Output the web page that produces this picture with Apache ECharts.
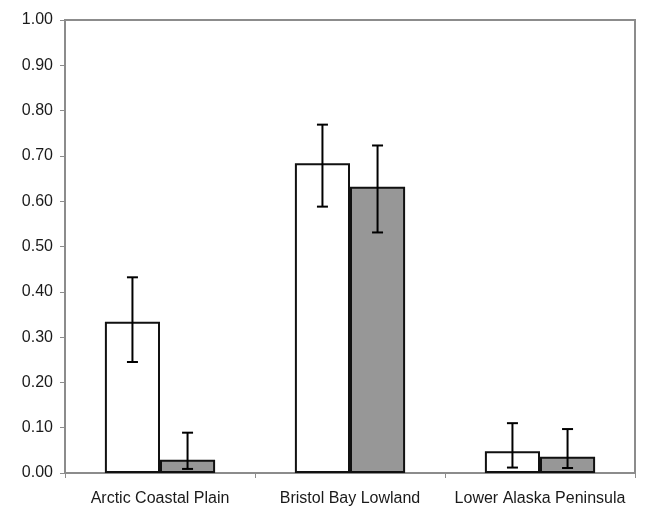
<!DOCTYPE html>
<html>
<head>
<meta charset="utf-8">
<script src="https://cdn.jsdelivr.net/npm/echarts@6/dist/echarts.min.js"></script>
<style>
html,body{margin:0;padding:0;background:#fff;}
#chart{width:666px;height:519px;}
</style>
</head>
<body>
<div id="chart"></div>
<script>
var categories = ['Arctic Coastal Plain', 'Bristol Bay Lowland', 'Lower Alaska Peninsula'];
var whiteValues = [0.334, 0.684, 0.048];
var whiteLow = [0.245, 0.588, 0.012];
var whiteHigh = [0.432, 0.769, 0.110];
var grayValues = [0.029, 0.632, 0.036];
var grayLow = [0.009, 0.531, 0.011];
var grayHigh = [0.089, 0.723, 0.097];
var yTicks = [0, 0.1, 0.2, 0.3, 0.4, 0.5, 0.6, 0.7, 0.8, 0.9, 1.0];

var BAR_FRAC = 0.29;

function errData(low, high) {
  return categories.map(function (c, i) { return [i, low[i], high[i]]; });
}
function errRender(side) {
  return function (params, api) {
    var idx = api.value(0);
    var band = api.size([1, 0])[0];
    var bw = band * BAR_FRAC;
    var x = api.coord([idx, 0])[0] + side * bw / 2;
    var yl = api.coord([idx, api.value(1)])[1];
    var yh = api.coord([idx, api.value(2)])[1];
    var cap = 5.5;
    var st = { stroke: '#000', lineWidth: 2 };
    return {
      type: 'group',
      children: [
        { type: 'line', shape: { x1: x, y1: yl, x2: x, y2: yh }, style: st },
        { type: 'line', shape: { x1: x - cap, y1: yl, x2: x + cap, y2: yl }, style: st },
        { type: 'line', shape: { x1: x - cap, y1: yh, x2: x + cap, y2: yh }, style: st }
      ]
    };
  };
}

var chart = echarts.init(document.getElementById('chart'), null, { renderer: 'canvas' });
chart.setOption({
  animation: false,
  backgroundColor: '#fff',
  textStyle: { fontFamily: 'Liberation Sans, Arial, sans-serif' },
  grid: {
    left: 65, right: 31, top: 20, bottom: 46,
    show: true, borderColor: '#8c8c8c', borderWidth: 2, backgroundColor: 'transparent'
  },
  xAxis: {
    type: 'category',
    data: categories,
    axisLine: { show: true, lineStyle: { color: '#8c8c8c', width: 2 } },
    axisTick: { show: true, length: 5, lineStyle: { color: '#8c8c8c', width: 1 } },
    axisLabel: {
      color: '#1a1a1a', fontSize: 16, margin: 18, interval: 0, hideOverlap: false,
      fontFamily: 'Liberation Sans, Arial, sans-serif'
    },
    splitLine: { show: false }
  },
  yAxis: {
    type: 'value',
    min: 0, max: 1, interval: 0.1,
    axisLine: { show: true, lineStyle: { color: '#8c8c8c', width: 2 } },
    axisTick: { show: true, length: 5, lineStyle: { color: '#8c8c8c', width: 1 } },
    axisLabel: {
      color: '#1a1a1a', fontSize: 16, margin: 12,
      fontFamily: 'Liberation Sans, Arial, sans-serif',
      formatter: function (v) { return v.toFixed(2); }
    },
    splitLine: { show: false }
  },
  series: [
    {
      type: 'bar', name: 'white', data: whiteValues,
      barWidth: (BAR_FRAC * 100) + '%', barGap: '0%',
      itemStyle: { color: '#ffffff', borderColor: '#111', borderWidth: 2 }
    },
    {
      type: 'bar', name: 'gray', data: grayValues,
      barWidth: (BAR_FRAC * 100) + '%', barGap: '0%',
      itemStyle: { color: '#979797', borderColor: '#111', borderWidth: 2 }
    },
    {
      type: 'custom', name: 'whiteErr', data: errData(whiteLow, whiteHigh),
      renderItem: errRender(-1), z: 10,
      encode: { x: 0, y: [1, 2] }
    },
    {
      type: 'custom', name: 'grayErr', data: errData(grayLow, grayHigh),
      renderItem: errRender(1), z: 10,
      encode: { x: 0, y: [1, 2] }
    }
  ]
});
</script>
</body>
</html>
